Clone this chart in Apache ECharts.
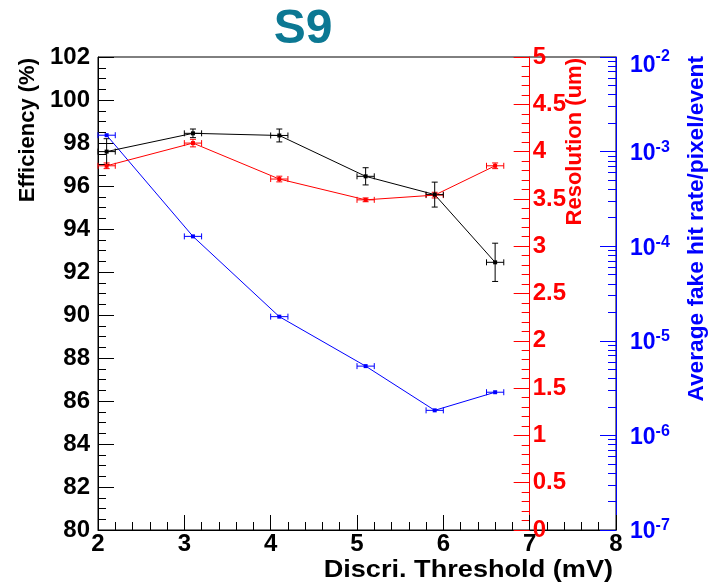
<!DOCTYPE html>
<html>
<head>
<meta charset="utf-8">
<script src="https://cdn.jsdelivr.net/npm/echarts@6/dist/echarts.min.js"></script>
<style>
html,body{margin:0;padding:0;background:#fff;}
#chart{width:712px;height:585px;}
</style>
</head>
<body>
<div id="chart"></div>
<script>
// ---- data ----
const thresholds     = [2.1, 3.1, 4.1, 5.1, 5.9, 6.6];
const thresholdErr   = [0.1, 0.1, 0.1, 0.1, 0.1, 0.1];
const efficiency     = [97.6, 98.45, 98.35, 96.45, 95.6, 92.45];
const efficiencyErr  = [0.6, 0.2, 0.3, 0.4, 0.58, 0.89];
const resolution     = [3.85, 4.09, 3.71, 3.49, 3.54, 3.85];
const resolutionErr  = [0.03, 0.04, 0.03, 0.02, 0.03, 0.03];
const fakeRate       = [1.49e-3, 1.27e-4, 1.8e-5, 5.4e-6, 1.84e-6, 2.86e-6];
const fakeRateErr    = [0, 0, 0, 0, 0, 0];

const FONT = '"Liberation Sans", Arial, sans-serif';
const BLACK = '#000000', RED = '#ff0000', BLUE = '#0000ff';

function pairs(ys){ return thresholds.map((x,i)=>[x, ys[i]]); }

function errorBars(yIdx, color, ys, yerrs){
  return {
    type: 'custom', xAxisIndex: 0, yAxisIndex: yIdx, silent: true, z: 4,
    data: thresholds.map((x,i)=>[x, ys[i], thresholdErr[i], yerrs[i]]),
    encode: {x: 0, y: 1},
    renderItem: function(params, api){
      const x = api.value(0), y = api.value(1), xe = api.value(2), ye = api.value(3);
      const l = api.coord([x - xe, y]), r = api.coord([x + xe, y]);
      const st = {stroke: color, lineWidth: 1};
      const ch = [
        {type:'line', shape:{x1:l[0], y1:l[1], x2:r[0], y2:r[1]}, style: st},
        {type:'line', shape:{x1:l[0], y1:l[1]-3, x2:l[0], y2:l[1]+3}, style: st},
        {type:'line', shape:{x1:r[0], y1:r[1]-3, x2:r[0], y2:r[1]+3}, style: st}
      ];
      if (ye > 0) {
        const lo = api.coord([x, y - ye]), hi = api.coord([x, y + ye]);
        ch.push({type:'line', shape:{x1:lo[0], y1:lo[1], x2:hi[0], y2:hi[1]}, style: st});
        ch.push({type:'line', shape:{x1:lo[0]-3, y1:lo[1], x2:lo[0]+3, y2:lo[1]}, style: st});
        ch.push({type:'line', shape:{x1:hi[0]-3, y1:hi[1], x2:hi[0]+3, y2:hi[1]}, style: st});
      }
      return {type:'group', children: ch};
    }
  };
}

function lineSeries(yIdx, color, ys){
  return {
    type: 'line', xAxisIndex: 0, yAxisIndex: yIdx, data: pairs(ys),
    symbol: 'rect', symbolSize: 4, showSymbol: true, z: 5,
    lineStyle: {color: color, width: 1}, itemStyle: {color: color},
    emphasis: {disabled: true}
  };
}

const chart = echarts.init(document.getElementById('chart'), null, {renderer: 'canvas'});
chart.setOption({
  animation: false,
  backgroundColor: '#ffffff',
  grid: {left: 98, right: 96, top: 57, bottom: 55, containLabel: false, outerBoundsMode: 'none',
         show: true, borderColor: BLACK, borderWidth: 1, backgroundColor: 'transparent'},
  xAxis: {
    type: 'value', min: 2, max: 8, interval: 1,
    axisLine: {show: true, onZero: false, lineStyle: {color: BLACK, width: 1}},
    axisTick: {show: true, inside: true, length: 15, lineStyle: {color: BLACK}},
    minorTick: {show: true, splitNumber: 5, length: 8, lineStyle: {color: BLACK}},
    splitLine: {show: false},
    axisLabel: {color: BLACK, fontFamily: FONT, fontWeight: 'bold', fontSize: 24, margin: 2}
  },
  yAxis: [
    {
      type: 'value', position: 'left', min: 80, max: 102, interval: 2,
      axisLine: {show: true, onZero: false, lineStyle: {color: BLACK, width: 1}},
      axisTick: {show: true, inside: true, length: 16, lineStyle: {color: BLACK}},
      minorTick: {show: true, splitNumber: 4, length: 8, lineStyle: {color: BLACK}},
      splitLine: {show: false},
      axisLabel: {color: BLACK, fontFamily: FONT, fontWeight: 'bold', fontSize: 24, margin: 8}
    },
    {
      type: 'value', position: 'right', offset: -86.33, min: 0, max: 5, interval: 0.5,
      axisLine: {show: true, onZero: false, lineStyle: {color: RED, width: 1}},
      axisTick: {show: true, inside: true, length: 16, lineStyle: {color: RED}},
      minorTick: {show: true, splitNumber: 5, length: 8, lineStyle: {color: RED}},
      splitLine: {show: false},
      axisLabel: {color: RED, fontFamily: FONT, fontWeight: 'bold', fontSize: 24, margin: 3}
    },
    {
      type: 'log', logBase: 10, position: 'right', offset: 0, min: 1e-7, max: 1e-2,
      axisLine: {show: true, onZero: false, lineStyle: {color: BLUE, width: 1}},
      axisTick: {show: true, inside: true, length: 16, lineStyle: {color: BLUE}},
      minorTick: {show: true, splitNumber: 9, length: 8, lineStyle: {color: BLUE}},
      splitLine: {show: false},
      axisLabel: {
        color: BLUE, fontFamily: FONT, fontWeight: 'bold', margin: 14,
        formatter: function(v){
          const e = Math.round(Math.log10(v));
          if (e >= -2) return '{bt|10}{st|' + e + '}';
          return '{b|10}{s|' + e + '}';
        },
        rich: {
          b:  {fontSize: 23, fontWeight: 'bold', fontFamily: FONT, color: BLUE, padding: [4,0,0,0]},
          s:  {fontSize: 16, fontWeight: 'bold', fontFamily: FONT, color: BLUE, padding: [0,0,8,0]},
          bt: {fontSize: 23, fontWeight: 'bold', fontFamily: FONT, color: BLUE, padding: [18,0,0,0]},
          st: {fontSize: 16, fontWeight: 'bold', fontFamily: FONT, color: BLUE, padding: [8,0,8,0]}
        }
      }
    }
  ],
  graphic: [
    {type: 'text', x: 303, y: 30, silent: true,
     style: {text: 'S9', font: 'bold 48px ' + FONT, fill: '#0c7893', align: 'center', verticalAlign: 'middle', textAlign: 'center', textVerticalAlign: 'middle'}},
    {type: 'text', x: 28, y: 58, rotation: Math.PI/2, silent: true,
     style: {text: 'Efficiency (%)', font: 'bold 22px ' + FONT, fill: BLACK, align: 'right', verticalAlign: 'middle', textAlign: 'right', textVerticalAlign: 'middle'}},
    {type: 'text', x: 575, y: 58, rotation: Math.PI/2, silent: true, z: 10,
     style: {text: 'Resolution (um)', font: 'bold 22px ' + FONT, fill: RED, align: 'right', verticalAlign: 'middle', textAlign: 'right', textVerticalAlign: 'middle'}},
    {type: 'text', x: 697, y: 56, rotation: Math.PI/2, scaleX: 1.03, silent: true,
     style: {text: 'Average fake hit rate/pixel/event', font: 'bold 22px ' + FONT, fill: BLUE, align: 'right', verticalAlign: 'middle', textAlign: 'right', textVerticalAlign: 'middle'}},
    {type: 'text', x: 613, y: 570, scaleX: 1.13, silent: true,
     style: {text: 'Discri. Threshold (mV)', font: 'bold 24px ' + FONT, fill: BLACK, align: 'right', verticalAlign: 'middle', textAlign: 'right', textVerticalAlign: 'middle'}}
  ],
  series: [
    lineSeries(2, BLUE, fakeRate),
    errorBars(2, BLUE, fakeRate, fakeRateErr),
    lineSeries(1, RED, resolution),
    errorBars(1, RED, resolution, resolutionErr),
    lineSeries(0, BLACK, efficiency),
    errorBars(0, BLACK, efficiency, efficiencyErr)
  ]
});
</script>
</body>
</html>
